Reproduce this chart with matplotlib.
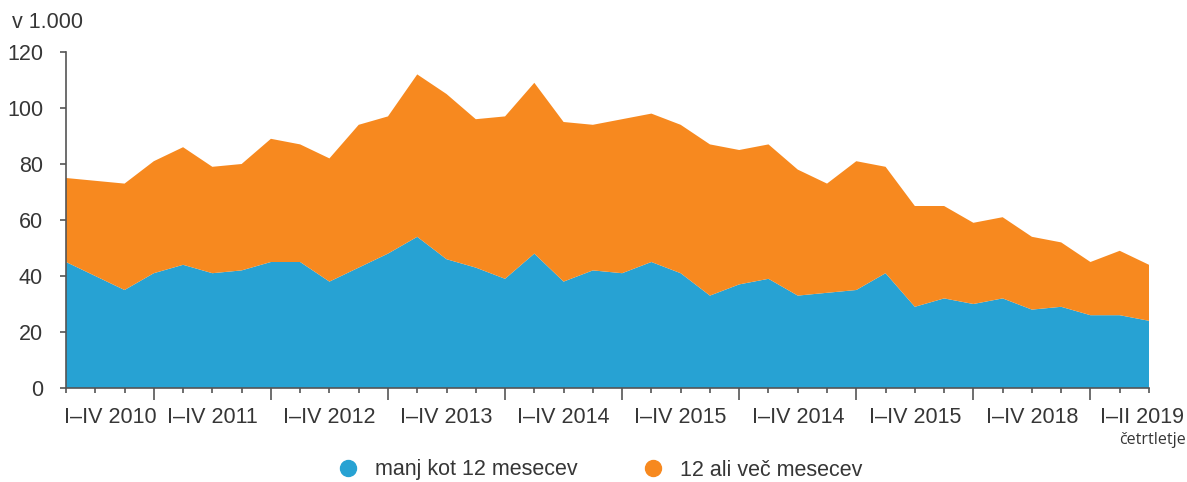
import matplotlib

matplotlib.use("Agg")
import matplotlib.pyplot as plt
import matplotlib.transforms as mtransforms
import numpy as np

plt.rcParams["font.family"] = ["Liberation Sans", "DejaVu Sans"]

# quarterly values, 2010 Q1 .. 2019 Q2, thousands
manj_12 = [45, 40, 35, 41, 44, 41, 42, 45, 45, 38, 43, 48, 54, 46, 43, 39, 48, 38, 42,
           41, 45, 41, 33, 37, 39, 33, 34, 35, 41, 29, 32, 30, 32, 28, 29, 26, 26, 24]
vec_12 = [30, 34, 38, 40, 42, 38, 38, 44, 42, 44, 51, 49, 58, 59, 53, 58, 61, 57, 52,
          55, 53, 53, 54, 48, 48, 45, 39, 46, 38, 36, 33, 29, 29, 26, 23, 19, 23, 20]
year_labels = ["I–IV 2010", "I–IV 2011", "I–IV 2012", "I–IV 2013", "I–IV 2014",
               "I–IV 2015", "I–IV 2014", "I–IV 2015", "I–IV 2018", "I–II 2019"]
series_names = ["manj kot 12 mesecev", "12 ali več mesecev"]
colors = ["#27A2D3", "#F7891F"]

FS = 15.5
TXT = "#363636"
AXC = "#555555"

x = np.arange(len(manj_12))

fig = plt.figure(figsize=(11.87, 4.82), dpi=100)
ax = fig.add_axes([66 / 1187, 1 - 388 / 482, (1149 - 66) / 1187, (388 - 52) / 482])

ax.stackplot(x, manj_12, vec_12, colors=colors, labels=series_names, linewidth=0)

ax.set_xlim(0, len(x) - 1)
ax.set_ylim(0, 120)
ax.set_yticks(np.arange(0, 121, 20))
for side in ("top", "right"):
    ax.spines[side].set_visible(False)
for side in ("left", "bottom"):
    ax.spines[side].set_color(AXC)
    ax.spines[side].set_linewidth(1.2)

ax.tick_params(axis="y", length=4.5, width=1.2, color=AXC, labelsize=FS,
               labelcolor=TXT, pad=12)
year_ends = np.arange(3, len(x), 4)
ax.set_xticks(year_ends)
ax.set_xticks(x, minor=True)
ax.tick_params(axis="x", which="major", length=8.5, width=1.2, color=AXC,
               labelbottom=False)
ax.tick_params(axis="x", which="minor", length=3.6, width=1.2, color=AXC)

# labels sit between the long ticks; the last one is pushed right as in the source
bounds = np.concatenate([[0], year_ends, [len(x) - 1]])
centers = (bounds[:-1] + bounds[1:]) / 2.0
centers[-1] += 0.75
trans = mtransforms.blended_transform_factory(ax.transData, ax.transAxes)
for pos, label in zip(centers, year_labels):
    ax.text(pos, -0.089, label, transform=trans, ha="center", va="center",
            fontsize=FS, color=TXT)

fig.text(1186 / 1187, 1 - 440 / 482, "četrtletje", ha="right", va="center",
         fontsize=11.5, color=TXT, family=["Open Sans", "DejaVu Sans"])
fig.text(12 / 1187, 1 - 22 / 482, "v 1.000", ha="left", va="center",
         fontsize=FS, color=TXT)

handles = [plt.Line2D([], [], marker="o", linestyle="none", markersize=11.5,
                      markerfacecolor=c, markeredgecolor=c) for c in colors]
fig.legend(handles, series_names, loc="center", bbox_to_anchor=(600 / 1187, 1 - 470 / 482),
           ncol=2, frameon=False, fontsize=FS, handlelength=1.0, handletextpad=0.75,
           columnspacing=3.0, labelcolor=TXT, borderpad=0)

fig.savefig("out.png", dpi=100)
